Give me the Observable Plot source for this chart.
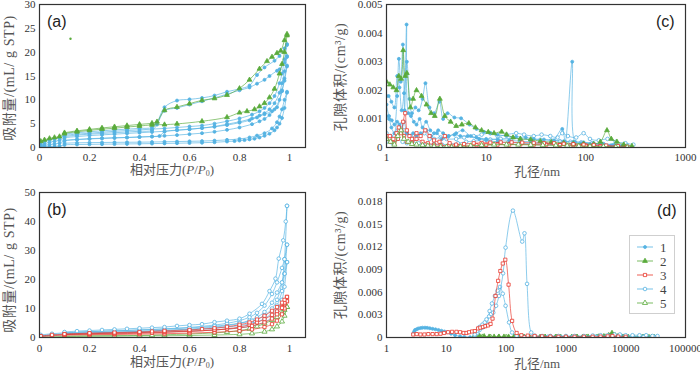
<!DOCTYPE html>
<html><head><meta charset="utf-8">
<script src="https://cdn.jsdelivr.net/npm/d3@7"></script>
<script src="https://cdn.jsdelivr.net/npm/@observablehq/plot@0.6"></script>
<style>
body{margin:0;background:#fff;}
#root{position:relative;width:700px;height:370px;overflow:hidden;background:#fff;}
#root svg.plot{position:absolute;}
.lbl{position:absolute;white-space:nowrap;color:#555;font-size:13px;line-height:14px;font-family:"Liberation Serif","Noto Sans CJK SC",serif;}
.ylbl{font-size:14px;letter-spacing:0.6px;transform:translate(-50%,-50%) rotate(-90deg);}
.xlbl{transform:translate(-50%,-50%);}
.tag{position:absolute;font-family:"Liberation Sans",Arial,sans-serif;font-size:16px;color:#222;line-height:16px;}
sub{font-size:8px;vertical-align:-2px;}
</style></head><body><div id="root"></div><script>
// ---------- panel (a): filled symbols, types 1 & 2 (x = P/P0, y = mL/g) ----------
const a_G_ads = [[0.005,1.3],[0.02,1.6],[0.04,1.9],[0.06,2.1],[0.08,2.3],[0.1,2.9],[0.15,3.3],[0.2,3.6],[0.25,3.85],[0.3,4.05],[0.35,4.3],[0.4,4.5],[0.45,4.75],[0.5,4.8],[0.55,4.95],[0.65,5.5],[0.75,6.35],[0.8,7.3],[0.83,7.6],[0.86,8.0],[0.88,8.6],[0.9,9.3],[0.92,10.5],[0.94,12.3],[0.96,15.5],[0.97,17.5],[0.98,20],[0.99,23.5]];
const a_G_des = [[0.99,23.8],[0.98,22.5],[0.965,20.3],[0.95,19.8],[0.93,19.0],[0.91,18.1],[0.88,16.5],[0.84,14.2],[0.8,12.4],[0.75,11.0],[0.7,10.3],[0.65,9.9],[0.6,9.2],[0.55,8.5],[0.5,7.8],[0.47,5.4],[0.45,5.1],[0.4,4.85],[0.35,4.6],[0.3,4.35],[0.25,4.1],[0.2,3.8],[0.15,3.5],[0.1,3.1]];
const a_B1_ads = [[0.005,1.0],[0.02,1.3],[0.04,1.6],[0.06,1.85],[0.08,2.0],[0.1,2.5],[0.15,2.8],[0.2,3.0],[0.25,3.2],[0.3,3.4],[0.35,3.55],[0.4,3.7],[0.45,3.85],[0.5,4.0],[0.55,4.2],[0.6,4.4],[0.65,4.6],[0.7,5.0],[0.75,5.5],[0.8,6.1],[0.85,6.9],[0.88,7.6],[0.9,8.3],[0.92,9.3],[0.94,10.8],[0.96,13.5],[0.97,15.5],[0.98,18.5],[0.99,21.5]];
const a_B1_des = [[0.99,21.7],[0.98,20.8],[0.96,19.2],[0.94,18.2],[0.9,16.8],[0.87,15.2],[0.84,13.0],[0.8,12.3],[0.75,11.7],[0.7,10.9],[0.65,10.4],[0.6,10.1],[0.55,9.85],[0.5,8.45],[0.47,5.2],[0.45,4.2],[0.4,4.0],[0.35,3.85],[0.3,3.7],[0.25,3.5],[0.2,3.3],[0.15,3.1],[0.1,2.8]];
const a_B2_ads = [[0.005,0.5],[0.02,0.8],[0.04,1.1],[0.06,1.3],[0.08,1.5],[0.1,2.0],[0.15,2.3],[0.2,2.5],[0.25,2.65],[0.3,2.8],[0.35,2.95],[0.4,3.1],[0.45,3.25],[0.5,3.4],[0.55,3.6],[0.6,3.8],[0.65,4.1],[0.7,4.4],[0.75,4.9],[0.8,5.4],[0.85,6.1],[0.88,6.7],[0.9,7.2],[0.92,8.0],[0.94,9.3],[0.96,11.5],[0.97,13.5],[0.98,16.0],[0.99,19.0]];
const a_B2_des = [[0.99,19.2],[0.98,17.8],[0.96,16.4],[0.95,16.1],[0.92,15.0],[0.9,14.2],[0.87,13.4],[0.84,12.6],[0.8,12.0],[0.75,11.2],[0.7,10.4],[0.65,9.7],[0.6,9.0],[0.55,8.3],[0.5,7.7],[0.47,4.8],[0.45,3.6],[0.4,3.4],[0.35,3.25],[0.3,3.1],[0.25,2.95],[0.2,2.8],[0.15,2.6],[0.1,2.3]];
const a_B3_ads = [[0.005,0.3],[0.02,0.45],[0.04,0.6],[0.06,0.75],[0.08,0.9],[0.1,1.4],[0.15,1.65],[0.2,1.8],[0.25,1.9],[0.3,2.0],[0.35,2.1],[0.4,2.2],[0.45,2.3],[0.5,2.45],[0.55,2.6],[0.6,2.8],[0.65,3.0],[0.7,3.3],[0.75,3.7],[0.8,4.2],[0.85,4.9],[0.88,5.5],[0.9,6.0],[0.92,6.8],[0.94,8.0],[0.96,10.0],[0.97,11.8],[0.98,14.0],[0.99,17.0]];
const a_B3_des = [[0.99,17.2],[0.98,14.5],[0.97,12.0],[0.95,8.45],[0.93,7.6],[0.9,7.0],[0.87,6.3],[0.84,5.7],[0.8,5.2],[0.75,4.7],[0.7,4.35],[0.65,4.05],[0.6,3.85],[0.55,3.65],[0.5,3.3],[0.48,2.4],[0.45,2.3],[0.4,2.2],[0.35,2.1],[0.3,2.05],[0.25,1.95],[0.2,1.85],[0.15,1.7],[0.1,1.5]];
const a_B4_ads = [[0.005,0.1],[0.02,0.15],[0.04,0.2],[0.06,0.25],[0.08,0.3],[0.1,0.55],[0.15,0.62],[0.2,0.66],[0.25,0.7],[0.3,0.72],[0.35,0.75],[0.4,0.78],[0.45,0.82],[0.5,0.86],[0.55,0.9],[0.6,0.95],[0.65,1.0],[0.7,1.1],[0.75,1.25],[0.78,1.35],[0.8,1.45],[0.82,1.55],[0.84,1.7],[0.86,1.85],[0.88,2.1],[0.9,2.45],[0.92,2.9],[0.94,3.6],[0.95,4.2],[0.96,5.0],[0.97,6.2],[0.98,8.3],[0.99,11.5]];
const a_B4_des = [[0.99,11.7],[0.98,10.0],[0.97,8.0],[0.96,6.5],[0.95,5.3],[0.93,4.0],[0.9,3.0],[0.87,2.5],[0.84,2.1],[0.8,1.8],[0.75,1.6],[0.7,1.45],[0.65,1.35],[0.6,1.3],[0.55,1.25],[0.5,1.2],[0.45,1.15],[0.4,1.12],[0.35,1.1],[0.3,1.08],[0.25,1.05],[0.2,1.02],[0.15,0.98],[0.1,0.9]];
const a_stray = [[0.124,22.8]];

// ---------- panel (b): open symbols, types 3, 4, 5 ----------
const b_C1_ads = [[0.005,0.9],[0.05,1.3],[0.1,1.6],[0.2,2.0],[0.3,2.3],[0.4,2.6],[0.5,2.9],[0.6,3.3],[0.7,3.9],[0.8,4.9],[0.85,5.8],[0.9,7.6],[0.93,10],[0.95,13],[0.97,19],[0.98,27],[0.99,45.4]];
const b_C1_des = [[0.99,45.4],[0.985,40],[0.975,33.5],[0.957,27.2],[0.944,20.3],[0.92,16],[0.89,11.6],[0.84,8.2],[0.8,6.5],[0.75,5.8],[0.7,5.3],[0.65,4.6],[0.6,4.3],[0.55,4.0],[0.5,3.6],[0.45,3.4],[0.4,3.2],[0.35,3.0],[0.3,2.8],[0.25,2.6],[0.2,2.4],[0.15,2.2],[0.1,1.9]];
const b_C2_ads = [[0.005,0.6],[0.05,1.0],[0.1,1.3],[0.2,1.6],[0.3,1.9],[0.4,2.1],[0.5,2.4],[0.6,2.7],[0.7,3.2],[0.8,4.1],[0.85,4.9],[0.9,6.5],[0.93,8.5],[0.95,11],[0.97,16],[0.98,22],[0.99,32]];
const b_C2_des = [[0.99,32],[0.98,27],[0.97,24],[0.95,19],[0.93,15],[0.9,11],[0.87,8.5],[0.84,7.0],[0.8,5.8],[0.75,4.9],[0.7,4.3],[0.6,3.5],[0.5,3.0],[0.4,2.6],[0.3,2.3],[0.2,2.0],[0.1,1.6]];
const b_C3_ads = [[0.005,0.5],[0.1,1.0],[0.2,1.3],[0.3,1.5],[0.4,1.7],[0.5,1.9],[0.6,2.2],[0.7,2.6],[0.8,3.3],[0.85,4.0],[0.9,5.3],[0.93,7.0],[0.95,9.0],[0.97,13],[0.98,17.5],[0.99,26]];
const b_C3_des = [[0.99,26],[0.98,22],[0.97,19],[0.95,15.5],[0.93,12],[0.9,8.8],[0.87,7.0],[0.84,5.9],[0.8,4.9],[0.75,4.1],[0.7,3.6],[0.6,2.9],[0.5,2.5],[0.4,2.1],[0.3,1.8],[0.2,1.6],[0.1,1.3]];
const b_R1_ads = [[0.005,0.5],[0.05,0.9],[0.1,1.1],[0.2,1.3],[0.3,1.5],[0.4,1.7],[0.5,1.9],[0.6,2.2],[0.7,2.6],[0.8,3.3],[0.85,4.0],[0.9,5.2],[0.93,6.5],[0.95,8.0],[0.97,10.2],[0.98,12],[0.99,14]];
const b_R1_des = [[0.99,14],[0.98,13],[0.97,12],[0.95,10.5],[0.93,9.2],[0.9,7.5],[0.87,6.2],[0.84,5.2],[0.8,4.4],[0.75,3.7],[0.7,3.2],[0.65,2.9],[0.6,2.6],[0.5,2.3],[0.45,2.1],[0.4,1.9],[0.3,1.7],[0.2,1.5],[0.1,1.2]];
const b_R2_ads = [[0.005,0.3],[0.05,0.6],[0.1,0.8],[0.2,0.95],[0.3,1.05],[0.4,1.15],[0.5,1.3],[0.6,1.5],[0.7,1.8],[0.8,2.3],[0.85,2.8],[0.9,3.6],[0.93,4.6],[0.95,5.8],[0.97,8],[0.98,10],[0.99,12.5]];
const b_R2_des = [[0.99,12.5],[0.98,11.5],[0.97,10.5],[0.95,9.0],[0.93,7.8],[0.9,6.3],[0.87,5.2],[0.84,4.4],[0.8,3.6],[0.75,3.0],[0.7,2.6],[0.6,2.1],[0.5,1.8],[0.45,1.6],[0.4,1.45],[0.3,1.3],[0.2,1.15],[0.1,1.0]];
const b_V1_ads = [[0.005,0.1],[0.05,0.25],[0.1,0.35],[0.2,0.45],[0.3,0.5],[0.4,0.55],[0.5,0.6],[0.6,0.7],[0.7,0.85],[0.8,1.1],[0.85,1.4],[0.9,2.0],[0.93,2.8],[0.95,3.8],[0.97,5.5],[0.98,7.5],[0.99,10.5]];
const b_V1_des = [[0.99,10.5],[0.98,9.5],[0.97,8.5],[0.95,7.0],[0.93,6.0],[0.9,4.8],[0.87,3.8],[0.84,3.0],[0.8,2.4],[0.75,1.9],[0.7,1.6],[0.6,1.2],[0.5,0.95],[0.45,0.8],[0.4,0.7],[0.3,0.62],[0.2,0.55],[0.1,0.45]];

// ---------- panel (c): pore volume vs pore size 1-1000 nm ----------
const c_1a = [[1,0.0015],[1.06,0.0011],[1.13,0.00095],[1.2,0.0008],[1.28,0.0018],[1.33,0.0031],[1.39,0.0023],[1.46,0.0036],[1.52,0.0013],[1.59,0.0043],[1.66,0.0012],[1.76,0.0011],[1.88,0.0009],[2.0,0.0008],[2.15,0.0010],[2.3,0.0007],[2.5,0.0009],[2.75,0.0006],[3.0,0.0005],[3.3,0.0006],[3.7,0.0005],[4.2,0.0004],[4.8,0.00045],[5.5,0.0004],[6.5,0.0004],[8,0.00035],[10,0.0003],[13,0.00028],[17,0.00025],[22,0.00022],[28,0.0002],[36,0.00018],[45,0.00016],[58,0.00065],[62,0.0002],[73,0.003],[78,0.0002],[90,0.00015],[110,0.00012],[140,0.0001],[180,0.00008],[230,0.00006]];
const c_1b = [[1,0.0018],[1.05,0.0018],[1.12,0.0016],[1.2,0.0014],[1.28,0.0025],[1.35,0.0021],[1.42,0.0013],[1.5,0.0019],[1.6,0.0030],[1.7,0.0017],[1.8,0.0012],[1.95,0.0014],[2.1,0.0013],[2.3,0.0017],[2.46,0.00225],[2.7,0.0014],[3.0,0.0012],[3.4,0.0016],[3.7,0.0010],[4.1,0.0012],[4.8,0.00105],[5.6,0.00102],[6.8,0.0008],[8,0.00065],[9.5,0.00055],[11,0.0005],[13,0.00045],[16,0.0004],[20,0.00038],[25,0.00035],[30,0.0003],[38,0.00028],[48,0.00025],[60,0.00022],[75,0.0002],[95,0.00018],[120,0.00015],[150,0.00012],[190,0.0001],[240,0.00008]];
const c_1c = [[1,0.0011],[1.06,0.0010],[1.12,0.0007],[1.2,0.0005],[1.28,0.0009],[1.35,0.0008],[1.42,0.0006],[1.5,0.0009],[1.6,0.0005],[1.7,0.0004],[1.85,0.0005],[2.0,0.0004],[2.2,0.0005],[2.5,0.0006],[2.8,0.0004],[3.2,0.0005],[3.6,0.0003],[4.2,0.0004],[5,0.0005],[5.8,0.0006],[7,0.0004],[8.5,0.0003],[10,0.00025],[13,0.0002],[17,0.00018],[22,0.00015],[30,0.00013],[40,0.00012],[55,0.0001],[75,0.00009],[100,0.00008],[140,0.00006],[200,0.00005]];
const c_2a = [[1,0.0023],[1.08,0.0022],[1.17,0.0021],[1.26,0.0020],[1.33,0.0025],[1.4,0.0024],[1.47,0.0034],[1.54,0.0025],[1.6,0.0026],[1.74,0.0014],[1.85,0.0017],[2.0,0.0020],[2.25,0.0018],[2.52,0.0015],[2.8,0.0012],[3.05,0.0011],[3.43,0.0017],[3.85,0.0011],[4.4,0.0009],[5.0,0.00075],[5.7,0.0008],[6.7,0.00085],[7.8,0.0007],[9,0.0006],[10.5,0.00054],[12,0.0005],[14.3,0.00055],[16,0.00045],[18.6,0.00035],[22,0.0003],[28,0.00028],[35,0.00022],[45,0.00019],[60,0.00016],[75,0.00014],[95,0.00013],[120,0.00012],[140,0.0002],[163,0.0006],[180,0.0003],[205,0.0002],[240,0.0001],[290,0.00005]];
const c_3a = [[1,0.0004],[1.08,0.0004],[1.17,0.0003],[1.26,0.0005],[1.33,0.0007],[1.4,0.0005],[1.47,0.0009],[1.54,0.0012],[1.6,0.0006],[1.7,0.0004],[1.8,0.0003],[2.0,0.0005],[2.2,0.0004],[2.45,0.0006],[2.7,0.0004],[3.0,0.00025],[3.4,0.0002],[3.85,0.0004],[4.3,0.00015],[5,0.0001],[6,0.00012],[7.5,0.00015],[9,0.00016],[11,0.00017],[14,0.00018],[18,0.00018],[23,0.00017],[30,0.00016],[38,0.00015],[48,0.00015],[60,0.00013],[75,0.00012],[95,0.0001],[120,0.00009],[160,0.00007],[210,0.00005],[260,0.00003]];
const c_3b = [[1,0.0003],[1.1,0.0002],[1.2,0.00015],[1.3,0.0003],[1.4,0.0006],[1.5,0.0004],[1.6,0.0002],[1.8,0.00015],[2.0,0.0003],[2.3,0.0002],[2.6,0.00015],[3,0.0001],[3.5,0.00008],[4.2,0.00006],[5,0.00005],[6,0.00004],[8,0.00008],[10,0.00009],[13,0.0001],[17,0.0001],[22,0.00011],[30,0.0001],[40,0.0001],[55,0.00009],[75,0.00008],[100,0.00007],[140,0.00005],[200,0.00003]];
const c_4a = [[1,0.0005],[1.1,0.0004],[1.2,0.0004],[1.3,0.0006],[1.4,0.0008],[1.5,0.0006],[1.6,0.0005],[1.75,0.0004],[1.9,0.0003],[2.1,0.0004],[2.4,0.0005],[2.7,0.0003],[3.0,0.0003],[3.5,0.00035],[4.0,0.0003],[5,0.0003],[6,0.00035],[7.5,0.0004],[9,0.00045],[11,0.0005],[13,0.0004],[16,0.00045],[20,0.0005],[24,0.00045],[30,0.0004],[36,0.00045],[44,0.0004],[52,0.00035],[58,0.0005],[66,0.0004],[80,0.00035],[95,0.0005],[110,0.0003],[135,0.00025],[165,0.0003],[200,0.0002],[250,0.00015],[300,0.0001]];
const c_4b = [[1,0.0002],[1.15,0.00015],[1.3,0.0003],[1.45,0.0002],[1.6,0.00015],[1.8,0.0002],[2.1,0.00015],[2.5,0.0001],[3,0.00012],[3.6,0.0001],[4.3,0.00012],[5.2,0.00015],[6.3,0.0002],[7.5,0.00022],[9,0.00025],[11,0.00028],[14,0.0003],[18,0.00032],[22,0.0003],[28,0.00028],[35,0.00027],[45,0.00025],[55,0.00022],[70,0.0002],[90,0.00018],[115,0.00015],[150,0.00012],[200,0.0001],[260,0.00007]];
const c_5a = [[1,0.0003],[1.1,0.0002],[1.2,0.0001],[1.3,0.0004],[1.4,0.0006],[1.5,0.0003],[1.65,0.0002],[1.8,0.00012],[2,0.0001],[2.3,0.00008],[2.6,0.00006],[3,0.00004],[3.5,0.00003],[4,0.00002],[4.5,0.00001],[5.5,0.00003],[7,0.00006],[9,0.00008],[12,0.0001],[16,0.0001],[21,0.0001],[28,0.00009],[37,0.00008],[50,0.00007],[65,0.00006],[85,0.00005],[110,0.00004],[150,0.00003],[200,0.00002],[260,0.00001]];

// ---------- panel (d): pore volume vs pore size 1-100000 nm ----------
const d_1 = [[2.8,0.0005],[2.9,0.0008],[3.0,0.001],[3.2,0.0011],[3.4,0.0012],[3.7,0.00125],[4.0,0.0013],[4.4,0.0013],[4.8,0.00128],[5.3,0.00122],[5.9,0.00115],[6.6,0.00108],[7.4,0.001],[8.3,0.0009],[9.3,0.0008],[10.5,0.0007],[12,0.0005],[14,0.0003],[17,0.00015],[20,0.00008],[25,0.00004],[30,0.00002],[40,0.00001]];
const d_2 = [[30,0.0003],[36,0.0002],[43,0.00015],[52,0.0001],[63,0.0001],[76,0.0001],[92,0.0001],[110,0.0001],[135,0.0001],[165,0.00008],[200,0.00008],[245,0.00008],[300,0.00008],[370,0.00008],[450,0.00008],[550,0.00008],[670,0.00008],[820,0.00008],[1000,0.00008],[1250,0.00008],[1550,0.00008],[1900,0.00008],[2350,0.0001],[2900,0.0001],[3500,0.00012],[4300,0.00015],[5200,0.0003],[5900,0.0006],[6600,0.0003],[7500,0.00015],[9000,0.0001],[11000,0.00008],[13500,0.00008],[16500,0.00008],[20000,0.00008],[24500,0.00006],[30000,0.00005]];
const d_3 = [[2.8,0.0004],[3.2,0.00045],[3.7,0.0004],[4.3,0.0004],[5,0.00045],[5.9,0.00045],[6.9,0.00045],[8,0.0005],[9.2,0.0006],[10.7,0.0007],[12.5,0.00075],[14.8,0.00075],[17,0.0007],[19.5,0.0006],[21.8,0.0006],[24,0.0007],[27,0.0008],[30,0.00085],[34,0.0012],[37,0.0013],[41,0.0014],[45,0.0015],[50,0.0016],[55,0.0018],[59.3,0.0025],[66.5,0.0055],[73.6,0.0075],[80,0.0088],[88,0.0098],[97,0.0103],[110,0.007],[126,0.0022],[150,0.0006],[180,0.0003],[230,0.00025],[300,0.0002],[400,0.00015],[550,0.00012],[750,0.0001],[1000,0.0001],[1400,0.0001],[2000,0.0001],[2800,0.0001],[3800,0.00012],[5000,0.00015],[6000,0.0002],[7500,0.00012],[10000,0.0001]];
const d_4a = [[30,0.0004],[33,0.0009],[36,0.0014],[40,0.0017],[44,0.0020],[47,0.0024],[52,0.0028],[56,0.0031],[61,0.0033],[68,0.0042],[76,0.0055],[89,0.0085],[98,0.0119],[130,0.0168],[186,0.0127],[203,0.0138],[224,0.0071],[263,0.00066],[300,0.00025],[400,0.0002],[550,0.0002],[750,0.0002],[1000,0.0002],[1400,0.0002],[2000,0.0002],[2800,0.00025],[3800,0.0003],[5000,0.0003],[6500,0.0004],[8000,0.0004],[10000,0.0003],[13000,0.0003],[17000,0.0003],[22000,0.0003],[28000,0.0002],[34000,0.0002]];
const d_4b = [[30,0.0003],[33,0.0006],[36,0.0010],[40,0.0013],[44,0.0015],[48,0.0018],[53,0.0035],[58,0.0045],[65,0.0055],[72,0.0062],[79,0.0067],[88,0.0058],[98,0.0042],[112,0.002],[126,0.00066],[150,0.0002],[200,0.0001],[300,0.0001],[500,0.0001],[800,0.0001],[1300,0.0001],[2000,0.0001],[3200,0.00012],[5000,0.00015],[8000,0.0002],[13000,0.00015],[20000,0.00012],[30000,0.0001]];
const d_5 = [[30,0.0001],[40,0.00008],[55,0.00006],[75,0.00005],[100,0.00005],[140,0.00005],[200,0.00005],[300,0.00005],[450,0.00005],[700,0.00005],[1000,0.00005],[1500,0.00005],[2200,0.00005],[3300,0.00006],[4500,0.0001],[5500,0.0002],[6200,0.00025],[7200,0.00012],[9000,0.00006],[13000,0.00005],[19000,0.00005],[27000,0.00004]];

// ---------- ticks & legend ----------
const a_xTicks = [0,0.2,0.4,0.6,0.8,1];
const a_yTicks = [0,5,10,15,20,25,30];
const b_yTicks = [0,10,20,30,40,50];
const c_xTicks = [1,10,100,1000];
const c_yTicks = [0,0.001,0.002,0.003,0.004,0.005];
const d_xTicks = [1,10,100,1000,10000,100000];
const d_yTicks = [0,0.003,0.006,0.009,0.012,0.015,0.018];
const legendNames = ["1","2","3","4","5"];

const BLUE="#55b3e2", GREEN="#5aab3c", RED="#e8372c";
const STY = {
  1:{stroke:BLUE, fill:BLUE, symbol:"circle", r:1.5},
  2:{stroke:GREEN, fill:GREEN, symbol:"triangle", r:1.8},
  3:{stroke:RED, fill:"white", symbol:"square", r:1.8},
  4:{stroke:BLUE, fill:"white", symbol:"circle", r:1.8},
  5:{stroke:GREEN, fill:"white", symbol:"triangle", r:1.9}
};

const root = document.getElementById("root");
const fmtDec = d => d === 0 ? "0" : d3.format(".3f")(d);
const fmtP = d => d === 0 ? "0" : d === 1 ? "1" : d.toFixed(1);
const fmtInt = d => String(d);

function panel(o){
  const marks = [];
  for (const s of o.series){
    const st = STY[s.type];
    marks.push(Plot.line(s.pts,{x:d=>d[0],y:d=>d[1],stroke:st.stroke,strokeWidth:0.9,strokeOpacity:0.75,curve:"catmull-rom",clip:true}));
    marks.push(Plot.dot(s.pts,{x:d=>d[0],y:d=>d[1],symbol:st.symbol,r:st.r,fill:st.fill,stroke:st.stroke,strokeWidth:0.8,clip:true}));
  }
  if (o.extra) marks.push(...o.extra);
  marks.push(Plot.axisX({ticks:o.xTicks,tickFormat:o.xFmt,tickSize:0,tickPadding:o.xPad,fontSize:11,label:null}));
  marks.push(Plot.axisY({ticks:o.yTicks,tickFormat:o.yFmt,tickSize:0,tickPadding:4,fontSize:11,label:null}));
  marks.push(Plot.frame({stroke:"#333",strokeWidth:1.2}));
  const svg = Plot.plot({
    width:350, height:185,
    marginLeft:o.ml, marginRight:o.mr, marginTop:o.mt, marginBottom:o.mb,
    x:o.x, y:o.y,
    style:{fontFamily:"'Liberation Serif',serif",fontSize:"11px",color:"#333",background:"transparent"},
    marks
  });
  svg.classList.add("plot");
  svg.style.left = o.left+"px"; svg.style.top = o.top+"px";
  root.appendChild(svg);
}

panel({left:0,top:0,ml:39,mr:45,mt:4,mb:38,xPad:6,
  x:{domain:[0,1.064]}, y:{domain:[0,30]},
  xTicks:a_xTicks,xFmt:fmtP,yTicks:a_yTicks,yFmt:fmtInt,
  series:[{type:1,pts:a_B4_ads},{type:1,pts:a_B4_des},{type:1,pts:a_B3_ads},{type:1,pts:a_B3_des},
          {type:1,pts:a_B2_ads},{type:1,pts:a_B2_des},{type:1,pts:a_B1_ads},{type:1,pts:a_B1_des},
          {type:2,pts:a_G_ads},{type:2,pts:a_G_des}],
  extra:[Plot.dot(a_stray,{x:d=>d[0],y:d=>d[1],r:1.2,fill:GREEN})]
});
panel({left:0,top:185,ml:39,mr:45,mt:7,mb:33,xPad:7,
  x:{domain:[0,1.064]}, y:{domain:[0,50]},
  xTicks:a_xTicks,xFmt:fmtP,yTicks:b_yTicks,yFmt:fmtInt,
  series:[{type:4,pts:b_C3_ads},{type:4,pts:b_C3_des},{type:4,pts:b_C2_ads},{type:4,pts:b_C2_des},
          {type:4,pts:b_C1_ads},{type:4,pts:b_C1_des},
          {type:5,pts:b_V1_ads},{type:5,pts:b_V1_des},
          {type:3,pts:b_R2_ads},{type:3,pts:b_R2_des},{type:3,pts:b_R1_ads},{type:3,pts:b_R1_des}]
});
panel({left:350,top:0,ml:36,mr:15,mt:4,mb:38,xPad:6,
  x:{type:"log",domain:[1,1000]}, y:{domain:[0,0.005]},
  xTicks:c_xTicks,xFmt:fmtInt,yTicks:c_yTicks,yFmt:fmtDec,
  series:[{type:4,pts:c_4a},{type:4,pts:c_4b},{type:1,pts:c_1c},{type:1,pts:c_1b},{type:1,pts:c_1a},
          {type:2,pts:c_2a},{type:3,pts:c_3b},{type:3,pts:c_3a},{type:5,pts:c_5a}]
});
panel({left:350,top:185,ml:36,mr:15,mt:7,mb:33,xPad:7,
  x:{type:"log",domain:[1,100000]}, y:{domain:[0,0.0192]},
  xTicks:d_xTicks,xFmt:fmtInt,yTicks:d_yTicks,yFmt:fmtDec,
  series:[{type:1,pts:d_1},{type:5,pts:d_5},{type:2,pts:d_2},{type:4,pts:d_4b},{type:4,pts:d_4a},{type:3,pts:d_3}]
});

// ---------- text ----------
function add(cls, html, x, y){
  const el = document.createElement("div");
  el.className = cls; el.innerHTML = html;
  el.style.left = x+"px"; el.style.top = y+"px";
  root.appendChild(el);
}
const PP = "相对压力(<i>P</i>/<i>P</i><sub>0</sub>)";
add("lbl xlbl", PP, 172, 172);
add("lbl xlbl", PP, 172, 364);
add("lbl xlbl", "孔径/nm", 537, 172);
add("lbl xlbl", "孔径/nm", 537, 364);
add("lbl ylbl", "吸附量/(mL/ g STP)", 10, 78);
add("lbl ylbl", "吸附量/(mL/ g STP)", 10, 270);
add("lbl ylbl", "孔隙体积/(cm³/g)", 341, 77);
add("lbl ylbl", "孔隙体积/(cm³/g)", 341, 265);
add("tag", "(a)", 47, 14);
add("tag", "(c)", 656, 14);
add("tag", "(b)", 47, 202);
add("tag", "(d)", 657, 203);

// legend
const lg = d3.select(root).append("svg")
  .attr("width",46).attr("height",79)
  .style("position","absolute").style("left","629px").style("top","235px");
lg.append("rect").attr("x",0.5).attr("y",0.5).attr("width",45).attr("height",78)
  .attr("fill","white").attr("stroke","#cfcfcf");
legendNames.forEach((name,i)=>{
  const st = STY[i+1], y = 12 + i*14;
  lg.append("line").attr("x1",8).attr("x2",24).attr("y1",y).attr("y2",y)
    .attr("stroke",st.stroke).attr("stroke-width",1).attr("stroke-opacity",0.8);
  lg.append("path").attr("d", d3.symbol(st.symbol==="circle"?d3.symbolCircle:st.symbol==="square"?d3.symbolSquare:d3.symbolTriangle, Math.PI*st.r*st.r)())
    .attr("transform",`translate(16,${y})`).attr("fill",st.fill).attr("stroke",st.stroke).attr("stroke-width",0.8);
  lg.append("text").attr("x",31).attr("y",y+4.5).text(name)
    .attr("font-family","'Liberation Serif',serif").attr("font-size",13).attr("fill","#444");
});
</script></body></html>
